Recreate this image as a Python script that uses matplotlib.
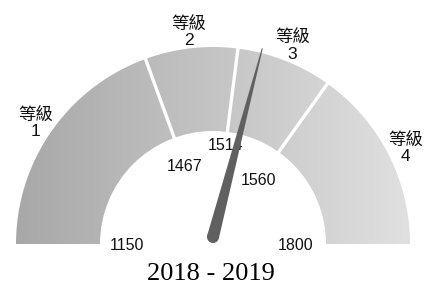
import numpy as np
import matplotlib
matplotlib.use("Agg")
import matplotlib.pyplot as plt
from matplotlib.patches import Wedge, Polygon, Circle
from matplotlib.colors import LinearSegmentedColormap

# gauge data
thresholds = [1150, 1467, 1514, 1560, 1800]
band_share = [38.9, 15.2, 15.7, 30.3]   # share of the half circle per grade
grade_labels = ["等級\n1", "等級\n2", "等級\n3", "等級\n4"]
needle_value = 1526
title = "2018 - 2019"

cjk = ["Liberation Sans", "Noto Sans CJK TC", "DejaVu Sans"]

fig = plt.figure(figsize=(4.26, 2.85), dpi=100)
ax = fig.add_axes([0, 0, 1, 1])
ax.set_xlim(0, 426)
ax.set_ylim(0, 285)
ax.set_aspect("equal")
ax.axis("off")

cx, cy = 213, 41
r_out, r_in = 197, 113

# boundary angles (degrees, 180 = left)
edges = 180 - np.concatenate([[0], np.cumsum(band_share)]) / sum(band_share) * 180

# gradient fill clipped to the ring
cmap = LinearSegmentedColormap.from_list("g", ["#a8a8a8", "#c4c4c4", "#e0e0e0"])
grad = np.linspace(0, 1, 256).reshape(1, -1)
ring = Wedge((cx, cy), r_out, 0, 180, width=r_out - r_in, facecolor="none", edgecolor="none")
ax.add_patch(ring)
im = ax.imshow(grad, cmap=cmap, extent=(cx - r_out, cx + r_out, cy, cy + r_out),
               aspect="auto", interpolation="bilinear", zorder=1)
im.set_clip_path(ring)

# white gaps between grades
for a in edges[1:-1]:
    t = np.radians(a)
    ax.plot([cx + (r_in - 2) * np.cos(t), cx + (r_out + 2) * np.cos(t)],
            [cy + (r_in - 2) * np.sin(t), cy + (r_out + 2) * np.sin(t)],
            color="white", lw=2.4, zorder=2, solid_capstyle="butt")

# grade labels
for i, lab in enumerate(grade_labels):
    t = np.radians((edges[i] + edges[i + 1]) / 2)
    ax.text(cx + 217 * np.cos(t), cy + 217 * np.sin(t) - 4, lab, ha="center", va="center",
            fontsize=12.5, family=cjk, linespacing=1.05, color="#111111")

# threshold labels
label_r = [86, 83, 99, 78, 83]
for v, a, r in zip(thresholds, edges, label_r):
    t = np.radians(a)
    ax.text(cx + r * np.cos(t), cy + r * np.sin(t) - (2 if a in (edges[0], edges[-1]) else 0),
            str(v), ha="center", va="center", fontsize=11.5, family=cjk, color="#111111")

# needle
ang = np.radians(np.interp(needle_value, thresholds, edges))
px, py = cx, cy + 7
tip_r, base_w = 195, 6
dx, dy = np.cos(ang), np.sin(ang)
nx, ny = -dy, dx
pts = [(px + base_w * nx, py + base_w * ny),
       (px + tip_r * dx + 0.5 * nx, py + tip_r * dy + 0.5 * ny),
       (px + tip_r * dx - 0.5 * nx, py + tip_r * dy - 0.5 * ny),
       (px - base_w * nx, py - base_w * ny)]
ax.add_patch(Polygon(pts, closed=True, facecolor="#606060", edgecolor="none", zorder=4))
ax.add_patch(Circle((px, py), base_w, facecolor="#606060", edgecolor="none", zorder=4))

ax.text(211, 11, title, ha="center", va="center", fontsize=19,
        family="Liberation Serif", color="black")

fig.savefig("out.png", dpi=100)
